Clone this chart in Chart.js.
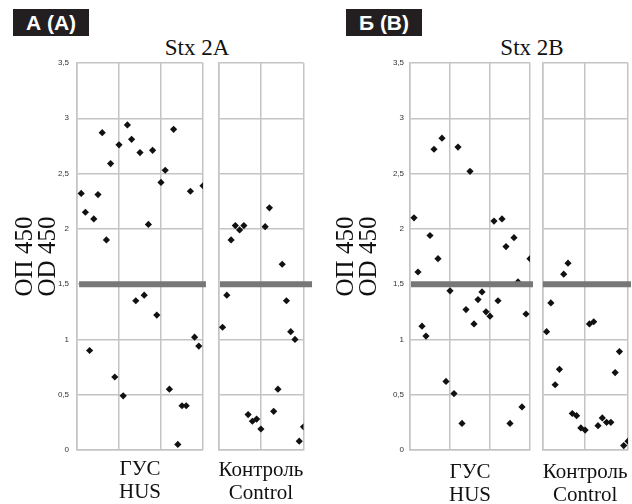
<!DOCTYPE html>
<html>
<head>
<meta charset="utf-8">
<script src="https://cdn.jsdelivr.net/npm/chart.js@4"></script>
<style>
  body { margin: 0; background: #fff; width: 632px; height: 504px; overflow: hidden; position: relative; }
  canvas { position: absolute; top: 0; }
  .tag { position: absolute; top: 9px; width: 76px; height: 27px; background: #231f20; color: #fff;
         font: bold 21px "Liberation Sans", Arial, sans-serif; line-height: 28px; text-align: center; }
  .ttl { position: absolute; top: 36px; font: 23px "Liberation Serif", serif; line-height: 23px;
         transform: translateX(-50%); white-space: nowrap; color: #111; }
</style>
</head>
<body>
<div class="tag" id="tagA" style="left:13px"></div>
<div class="ttl" id="ttlA" style="left:197px"></div>
<div class="tag" id="tagB" style="left:346px"></div>
<div class="ttl" id="ttlB" style="left:532px"></div>

<canvas id="husA" width="212" height="504" style="left:0px"></canvas>
<canvas id="ctrlA" width="104" height="504" style="left:212px"></canvas>
<canvas id="husB" width="220" height="504" style="left:316px"></canvas>
<canvas id="ctrlB" width="96" height="504" style="left:536px"></canvas>

<script>
const panelTags = ['А (A)', 'Б (B)'];
const panelTitles = ['Stx 2A', 'Stx 2B'];
const yTitle = ['ОП 450', 'OD 450'];
const husLabel = ['ГУС', 'HUS'];
const ctrlLabel = ['Контроль', 'Control'];
const yTickLabels = ['0', '0,5', '1', '1,5', '2', '2,5', '3', '3,5'];
const cutoff = 1.5;

// OD values, one per sample, in plotted order
const hus2A = [2.32, 2.15, 0.90, 2.09, 2.31, 2.87, 1.90, 2.59, 0.66, 2.76,
               0.49, 2.94, 2.81, 1.35, 2.69, 1.40, 2.04, 2.71, 1.22, 2.42,
               2.53, 0.55, 2.90, 0.05, 0.40, 0.40, 2.34, 1.02, 0.94, 2.39];
const ctrl2A = [1.11, 1.40, 1.90, 2.03, 1.99, 2.03, 0.32, 0.26, 0.28, 0.19,
                2.02, 2.19, 0.35, 0.55, 1.68, 1.35, 1.07, 1.00, 0.08, 0.21];
const hus2B = [2.10, 1.61, 1.12, 1.03, 1.94, 2.72, 1.73, 2.82, 0.62, 1.44,
               0.51, 2.74, 0.24, 1.27, 2.52, 1.14, 1.36, 1.43, 1.25, 1.21,
               2.07, 1.35, 2.09, 1.84, 0.24, 1.92, 1.52, 0.39, 1.23, 1.73];
const ctrl2B = [1.07, 1.33, 0.59, 0.73, 1.59, 1.69, 0.33, 0.31, 0.20, 0.18,
                1.14, 1.16, 0.22, 0.29, 0.25, 0.25, 0.70, 0.89, 0.04, 0.08];

document.getElementById('tagA').textContent = panelTags[0];
document.getElementById('tagB').textContent = panelTags[1];
document.getElementById('ttlA').textContent = panelTitles[0];
document.getElementById('ttlB').textContent = panelTitles[1];

const gridColor = '#c4c4c4';

function makeChart(id, values, o) {
  const pts = values.map((v, i) => ({ x: i + 1, y: v }));
  return new Chart(document.getElementById(id), {
    type: 'scatter',
    data: {
      datasets: [
        {
          data: [{ x: o.lineFrom, y: cutoff }, { x: o.lineTo, y: cutoff }],
          showLine: true, borderColor: '#777', borderWidth: 6, borderCapStyle: 'butt',
          pointRadius: 0, clip: false, order: 1
        },
        {
          data: pts, pointStyle: 'rectRot', pointRadius: 3.6,
          backgroundColor: '#111', borderWidth: 0, order: 2
        }
      ]
    },
    options: {
      responsive: false,
      animation: false,
      layout: { padding: { left: o.padL, right: o.padR, top: 63, bottom: 0 } },
      plugins: { legend: { display: false }, tooltip: { enabled: false } },
      scales: {
        x: {
          type: 'linear', min: 0, max: o.xMax,
          ticks: { display: false, stepSize: 10 },
          grid: { color: gridColor, lineWidth: 1.5, drawTicks: false },
          border: { color: gridColor, width: 1.5 },
          title: {
            display: true, text: o.xTitle, color: '#111',
            font: { family: 'Liberation Serif', size: 21, lineHeight: 1.1 },
            padding: { top: 0, bottom: -o.labelDrop }
          },
          afterFit: s => { s.height = 54; }
        },
        y: {
          min: 0, max: 3.5,
          ticks: {
            display: o.yAxis, stepSize: 0.5, padding: o.tickPad, color: '#333',
            font: { family: 'Liberation Sans', size: 8 },
            callback: v => yTickLabels[Math.round(v * 2)]
          },
          grid: { color: gridColor, lineWidth: 1.5, drawTicks: false },
          border: { color: gridColor, width: 1.5 },
          title: {
            display: o.yAxis, text: yTitle, color: '#111',
            font: { family: 'Liberation Serif', size: 25, lineHeight: 0.92 },
            padding: { top: o.titlePad, bottom: 0 }
          },
          afterFit: s => { s.width = o.yWidth; }
        }
      }
    }
  });
}

makeChart('husA', hus2A, { xMax: 30, xTitle: husLabel, yAxis: true, yWidth: 77, padL: 0, padR: 9,
  tickPad: 8, titlePad: 13.5, lineFrom: 0.5, lineTo: 30.7, labelDrop: 0 });
makeChart('ctrlA', ctrl2A, { xMax: 20, xTitle: ctrlLabel, yAxis: false, yWidth: 0, padL: 6.3, padR: 12.5,
  tickPad: 0, titlePad: 0, lineFrom: 0.4, lineTo: 22, labelDrop: 1 });
makeChart('husB', hus2B, { xMax: 30, xTitle: husLabel, yAxis: true, yWidth: 94, padL: 0, padR: 6,
  tickPad: 6, titlePad: 18.5, lineFrom: 0.25, lineTo: 30.75, labelDrop: 3 });
makeChart('ctrlB', ctrl2B, { xMax: 20, xTitle: ctrlLabel, yAxis: false, yWidth: 0, padL: 6.3, padR: 4,
  tickPad: 0, titlePad: 0, lineFrom: 0.15, lineTo: 20.7, labelDrop: 3 });
</script>
</body>
</html>
